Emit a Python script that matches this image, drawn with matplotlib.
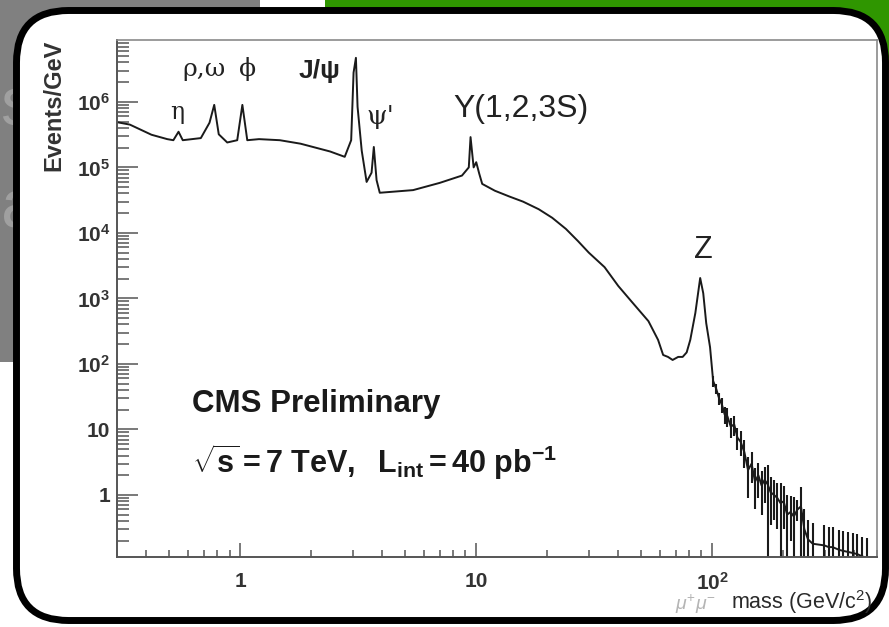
import numpy as np
import matplotlib
matplotlib.use('Agg')
import matplotlib.pyplot as plt
from matplotlib.patches import FancyBboxPatch, Rectangle
from matplotlib.ticker import FixedLocator, FixedFormatter, LogLocator, NullFormatter

plt.rcParams['font.family'] = ['Liberation Sans', 'DejaVu Sans']
plt.rcParams['mathtext.fontset'] = 'custom'
plt.rcParams['mathtext.rm'] = 'Liberation Sans'
plt.rcParams['mathtext.bf'] = 'Liberation Sans:bold'
plt.rcParams['mathtext.it'] = 'Liberation Sans:italic'

# dimuon mass spectrum (GeV/c^2, events/GeV)
mass = [0.30, 0.34, 0.42, 0.49, 0.52, 0.547, 0.57, 0.68, 0.74, 0.775,
        0.81, 0.88, 0.97, 1.02, 1.07, 1.2, 1.47, 1.8, 2.4, 2.77,
        2.95, 3.02, 3.09, 3.14, 3.27, 3.43, 3.6, 3.68, 3.78, 3.9,
        5.4, 7.0, 8.7, 9.3, 9.46, 9.75, 10.0, 10.3, 10.6, 12.0,
        13.8, 15.8, 18.4, 21, 24, 27, 30, 35, 40, 45.5,
        53.7, 59, 62, 65, 68, 71.8, 75, 78, 80.8, 84.9,
        89, 91.7, 94.4, 98]
events = [4.9e5, 4.5e5, 3.15e5, 2.7e5, 2.6e5, 3.5e5, 2.6e5, 2.8e5, 4.8e5, 9e5,
          3.2e5, 2.4e5, 2.6e5, 9e5, 2.6e5, 2.7e5, 2.6e5, 2.3e5, 1.75e5, 1.45e5,
          2.6e5, 2.8e6, 4.7e6, 8.4e5, 1.8e5, 6e4, 8.3e4, 2.05e5, 6.4e4, 4.1e4,
          4.5e4, 5.8e4, 7.5e4, 1.0e5, 2.9e5, 1.0e5, 1.2e5, 8e4, 5.6e4, 4.4e4,
          3.6e4, 3.0e4, 2.3e4, 1.7e4, 1.15e4, 7.5e3, 5e3, 3.0e3, 1.55e3, 900,
          450, 233, 137, 128, 115, 128, 128, 150, 233, 600,
          2.05e3, 1.2e3, 420, 180]

# high mass tail, with error bars (lower end 1e-3 = bar runs down to zero)
tail_mass = [101, 104, 107, 110, 113, 116, 120, 124, 128, 132,
             137, 142, 147, 152, 157, 162, 167, 172, 177, 183,
             189, 195, 201, 208, 215, 222, 230, 238, 246, 255,
             267, 299, 312, 324, 346, 360, 377, 395, 413, 433,
             455]
tail_events = [55, 42, 30, 24, 17, 16, 11, 12, 7.5, 6.5,
               4.5, 2.4, 3.0, 1.6, 2.0, 1.4, 1.7, 1.45, 1.1, 1.0,
               0.9, 0.75, 0.8, 0.5, 0.55, 0.47, 0.6, 0.67, 0.3, 0.21,
               0.18, 0.17, 0.16, 0.16, 0.145, 0.14, 0.135, 0.13, 0.125, 0.115,
               0.11]
tail_lo = [45, 35, 24, 18, 12, 11, 7.5, 8, 4.8, 4,
           2.6, 0.9, 1.5, 0.6, 0.9, 0.5, 0.75, 1e-3, 0.35, 0.42,
           0.3, 1e-3, 0.3, 1e-3, 0.2, 1e-3, 0.4, 1e-3, 1e-3, 1e-3,
           1e-3, 1e-3, 1e-3, 1e-3, 1e-3, 1e-3, 1e-3, 1e-3, 1e-3, 1e-3,
           1e-3]
tail_hi = [65, 50, 36, 30, 22, 21, 15, 16, 10.5, 9.5,
           6.8, 3.8, 4.5, 2.6, 3.1, 2.3, 2.7, 2.9, 1.9, 1.7,
           1.5, 1.5, 1.35, 1.0, 0.95, 0.93, 0.84, 1.33, 0.6, 0.42,
           0.37, 0.35, 0.33, 0.33, 0.29, 0.28, 0.27, 0.26, 0.25, 0.23,
           0.22]

y_ticks = [1, 10, 1e2, 1e3, 1e4, 1e5, 1e6]
y_ticklabels = ['1', '10', r'$\mathbf{10^{2}}$', r'$\mathbf{10^{3}}$', r'$\mathbf{10^{4}}$',
                r'$\mathbf{10^{5}}$', r'$\mathbf{10^{6}}$']
x_ticks = [1, 10, 100]
x_ticklabels = ['1', '10', r'$\mathbf{10^{2}}$']

fig = plt.figure(figsize=(8.89, 6.27), dpi=100)
fig.patch.set_facecolor('white')
inch = fig.dpi_scale_trans

# slide background behind the rounded frame
fig.add_artist(Rectangle((0, 2.65), 2.60, 3.62, transform=inch, fc='#808080', ec='none', zorder=-5))
fig.add_artist(Rectangle((3.25, 5.57), 5.64, 0.70, transform=inch, fc='#2f9600', ec='none', zorder=-5))
fig.text(0.005, 5.02, 's', transform=inch, fontsize=50, color='#a0a0a0', ha='left', va='baseline', zorder=-4)
fig.text(0.005, 3.99, 'a', transform=inch, fontsize=50, color='#a0a0a0', ha='left', va='baseline', zorder=-4)
fig.add_artist(FancyBboxPatch((0.165, 0.065), 8.69, 6.10, transform=inch,
                              boxstyle='round,pad=0,rounding_size=0.52',
                              fc='white', ec='black', lw=5, zorder=-3))

ax = fig.add_axes([117/889, 70/627, 760/889, 517/627])
ax.set_facecolor('white')
ax.set_xscale('log')
ax.set_yscale('log')

ax.plot(mass + tail_mass, events + tail_events, color='#1a1a1a', lw=1.4)
ax.vlines(tail_mass, tail_lo, tail_hi, color='#1a1a1a', lw=1.5)

ax.set_xlim(0.3, 500)
ax.set_ylim(0.113, 8.8e6)

ax.yaxis.set_major_locator(FixedLocator(y_ticks))
ax.yaxis.set_major_formatter(FixedFormatter(y_ticklabels))
ax.yaxis.set_minor_locator(LogLocator(base=10, subs=np.arange(2, 10), numticks=30))
ax.yaxis.set_minor_formatter(NullFormatter())
ax.xaxis.set_major_locator(FixedLocator(x_ticks))
ax.xaxis.set_major_formatter(FixedFormatter(x_ticklabels))
ax.xaxis.set_minor_locator(LogLocator(base=10, subs=np.arange(2, 10), numticks=30))
ax.xaxis.set_minor_formatter(NullFormatter())

ax.tick_params(axis='both', which='both', direction='in', color='#555555', width=1.1,
               top=False, right=False, labelcolor='#333333')
ax.tick_params(axis='y', which='major', length=15, pad=5, labelsize=15)
ax.tick_params(axis='y', which='minor', length=8.5)
ax.tick_params(axis='x', which='major', length=10, pad=11, labelsize=15)
ax.tick_params(axis='x', which='minor', length=5)
for lab in ax.get_xticklabels() + ax.get_yticklabels():
    lab.set_fontweight('bold')

for side in ['left', 'bottom']:
    ax.spines[side].set_color('#555555')
    ax.spines[side].set_linewidth(1.4)
for side in ['top', 'right']:
    ax.spines[side].set_color('#8a8a8a')
    ax.spines[side].set_linewidth(1.2)

ax.text(-0.083, 1.0, 'Events/GeV', transform=ax.transAxes, rotation=90,
        ha='center', va='top', fontsize=17, fontweight='bold', color='#333333')
ax.text(0.993, -0.101, 'mass (GeV/c$^{2}$)', transform=ax.transAxes,
        ha='right', va='baseline', fontsize=15.5, color='#2a2a2a')
ax.text(0.788, -0.101, r'$\mu^{+}\mu^{-}$', transform=ax.transAxes,
        ha='right', va='baseline', fontsize=14, color='#b5b5b5')

# resonance labels
greek = ['DejaVu Serif', 'Liberation Serif']
ax.text(0.079, 0.847, 'η', transform=ax.transAxes, ha='center', va='baseline', fontsize=17, family=greek, color='#222222')
ax.text(0.115, 0.930, 'ρ,ω', transform=ax.transAxes, ha='center', va='baseline', fontsize=18, family=greek, color='#222222')
ax.text(0.172, 0.930, 'ϕ', transform=ax.transAxes, ha='center', va='baseline', fontsize=18, family=greek, color='#222222')
ax.text(0.267, 0.926, 'J/ψ', transform=ax.transAxes, ha='center', va='baseline', fontsize=19, fontweight='bold', color='#222222')
ax.text(0.347, 0.838, "ψ'", transform=ax.transAxes, ha='center', va='baseline', fontsize=19, family=greek, color='#222222')
ax.text(0.442, 0.851, 'Υ(1,2,3S)', transform=ax.transAxes, ha='left', va='baseline', fontsize=23, color='#222222')
ax.text(0.771, 0.578, 'Z', transform=ax.transAxes, ha='center', va='baseline', fontsize=22, color='#222222')

ax.text(0.099, 0.280, 'CMS Preliminary', transform=ax.transAxes, ha='left', va='baseline',
        fontsize=22.5, fontweight='bold', color='#1a1a1a')
ax.text(0.099, 0.162, r'$\mathbf{\sqrt{s} = 7\ TeV,\ \ L_{int} = 40\ pb^{-1}}$',
        transform=ax.transAxes, ha='left', va='baseline', fontsize=22, color='#1a1a1a')

fig.savefig('out.png', dpi=100)
